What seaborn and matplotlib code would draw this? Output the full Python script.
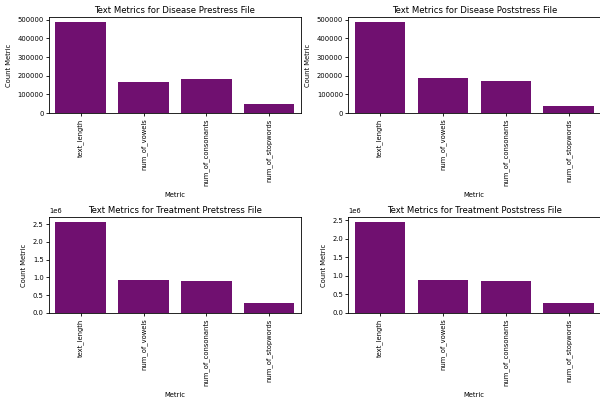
import pandas as pd
import seaborn as sns
import matplotlib
matplotlib.use("Agg")
import matplotlib.pyplot as plt

metrics = ["text_length", "num_of_vowels", "num_of_consonants", "num_of_stopwords"]

disease_pre = [490000, 165000, 180000, 50000]
disease_post = [490000, 187000, 173000, 38000]
treatment_pre = [2570000, 930000, 910000, 280000]
treatment_post = [2470000, 900000, 870000, 270000]

titles = [
    "Text Metrics for Disease Prestress File",
    "Text Metrics for Disease Poststress File",
    "Text Metrics for Treatment Pretstress File",
    "Text Metrics for Treatment Poststress File",
]


def draw_panel(ax, values, title):
    df = pd.DataFrame({"Metric": metrics, "Count Metric": values})
    sns.barplot(x="Metric", y="Count Metric", data=df, color="purple", ax=ax)
    ax.set_title(title, fontsize=6.1, pad=3)
    ax.set_xlabel("Metric", fontsize=4.9, labelpad=4)
    ax.set_ylabel("Count Metric", fontsize=4.9, labelpad=4)
    ax.tick_params(axis="both", labelsize=4.9, length=2.5, width=0.6, pad=1.5)
    ax.tick_params(axis="x", rotation=90)
    ax.yaxis.get_offset_text().set_fontsize(4.9)
    for s in ax.spines.values():
        s.set_linewidth(0.6)


def main():
    fig, axes = plt.subplots(2, 2, figsize=(6, 4), dpi=100)
    fig.subplots_adjust(left=0.082, right=1.0, top=0.9575, bottom=0.2175,
                        wspace=0.19, hspace=1.083)
    data = [disease_pre, disease_post, treatment_pre, treatment_post]
    for ax, values, title in zip(axes.flat, data, titles):
        draw_panel(ax, values, title)
    fig.savefig("out.png", dpi=100)


if __name__ == "__main__":
    main()
